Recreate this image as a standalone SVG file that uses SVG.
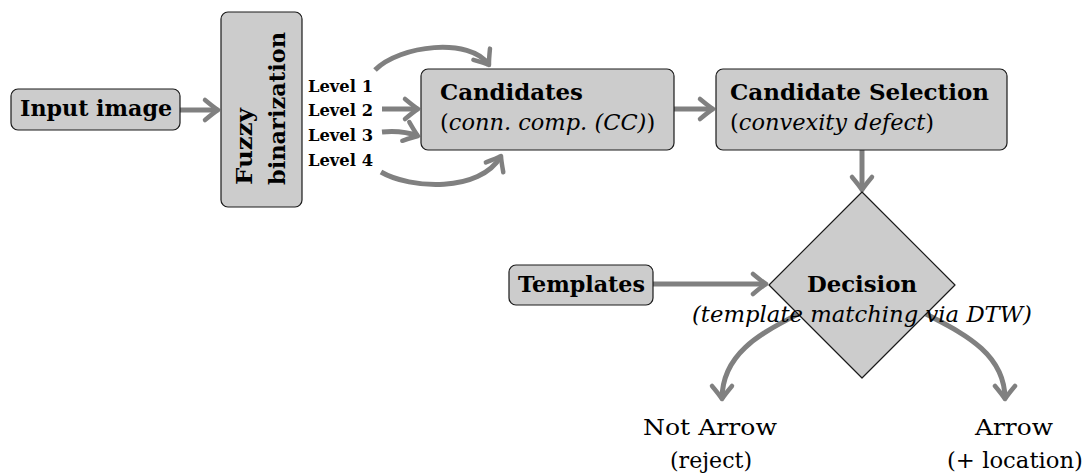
<svg xmlns="http://www.w3.org/2000/svg" width="1088" height="473" viewBox="0 0 1088 473">
  <style>
    .box { fill: #cccccc; stroke: #1a1a1a; stroke-width: 1.2; }
    .edge { fill: none; stroke: #808080; stroke-width: 5; marker-end: url(#head); }
    .t { font-family: "DejaVu Serif", "Liberation Serif", serif; fill: #000; }
    .b { font-weight: bold; font-size: 23px; }
    .lv { font-weight: bold; font-size: 16px; }
    .r { font-size: 23px; }
    .sub { font-size: 22.5px; }
    .it { font-style: italic; }
  </style>
  <defs>
    <marker id="head" markerUnits="userSpaceOnUse" orient="auto" refX="0" refY="0" markerWidth="30" markerHeight="30" viewBox="-15 -15 30 30" overflow="visible">
      <path d="M -13,-10 Q -4,-2.5 0,0 Q -4,2.5 -13,10" fill="none" stroke="#808080" stroke-width="4.5" stroke-linecap="round" stroke-linejoin="round"/>
    </marker>
  </defs>

  <!-- connectors -->
  <g id="connectors">
    <path class="edge" d="M180,110 L218,110"/>
    <path class="edge" d="M375,70 C400,45 470,37 489,65"/>
    <path class="edge" d="M382,109 L418,109"/>
    <path class="edge" d="M382,132 Q402,130 418,136"/>
    <path class="edge" d="M381,172 C410,189 480,193 501,156"/>
    <path class="edge" d="M674,109 L713,109"/>
    <path class="edge" d="M862,150 L862,190"/>
    <path class="edge" d="M653,284 L766,284"/>
    <path class="edge" d="M798,314 C764,332 722,352 722,399"/>
    <path class="edge" d="M926,314 C960,332 1005,352 1005,399"/>
  </g>

  <!-- input image -->
  <g id="input">
    <rect class="box" x="11" y="89" width="169" height="41" rx="7"/>
    <text class="t b" x="20" y="116" textLength="152" lengthAdjust="spacingAndGlyphs">Input image</text>
  </g>

  <!-- fuzzy binarization (vertical label) -->
  <g id="fuzzy">
    <rect class="box" x="221" y="12" width="81" height="195" rx="7"/>
    <text class="t b" transform="translate(252,185) rotate(-90)" textLength="77" lengthAdjust="spacingAndGlyphs">Fuzzy</text>
    <text class="t b" transform="translate(285,185) rotate(-90)" textLength="153" lengthAdjust="spacingAndGlyphs">binarization</text>
  </g>

  <!-- binarization levels -->
  <g id="levels">
    <text class="t lv" x="308" y="92" textLength="65" lengthAdjust="spacingAndGlyphs">Level 1</text>
    <text class="t lv" x="308" y="116" textLength="65" lengthAdjust="spacingAndGlyphs">Level 2</text>
    <text class="t lv" x="308" y="141" textLength="65" lengthAdjust="spacingAndGlyphs">Level 3</text>
    <text class="t lv" x="308" y="166" textLength="65" lengthAdjust="spacingAndGlyphs">Level 4</text>
  </g>

  <!-- candidates: upright brackets around an italic method name -->
  <g id="candidates">
    <rect class="box" x="421" y="69" width="253" height="81" rx="7"/>
    <text class="t b" x="440" y="100" textLength="143" lengthAdjust="spacingAndGlyphs">Candidates</text>
    <text class="t sub" x="440" y="130">(<tspan class="it">conn. comp. (CC)</tspan>)</text>
  </g>

  <!-- candidate selection -->
  <g id="selection">
    <rect class="box" x="716" y="69" width="291" height="81" rx="7"/>
    <text class="t b" x="730" y="100" textLength="259" lengthAdjust="spacingAndGlyphs">Candidate Selection</text>
    <text class="t sub" x="730" y="130">(<tspan class="it">convexity defect</tspan>)</text>
  </g>

  <!-- templates -->
  <g id="templates">
    <rect class="box" x="509" y="265" width="144" height="40" rx="7"/>
    <text class="t b" x="518" y="292" textLength="127" lengthAdjust="spacingAndGlyphs">Templates</text>
  </g>

  <!-- decision -->
  <g id="decision">
    <polygon class="box" points="862,192 955,285 862,378 769,285" stroke-linejoin="round"/>
    <text class="t b" x="807" y="292" textLength="110" lengthAdjust="spacingAndGlyphs">Decision</text>
    <text class="t r it" x="692" y="322" textLength="340" lengthAdjust="spacingAndGlyphs">(template matching via DTW)</text>
  </g>

  <!-- outcomes -->
  <g id="not-arrow">
    <text class="t r" x="643" y="435" textLength="134" lengthAdjust="spacingAndGlyphs">Not Arrow</text>
    <text class="t r" x="670" y="468" textLength="82" lengthAdjust="spacingAndGlyphs">(reject)</text>
  </g>
  <g id="arrow">
    <text class="t r" x="975" y="435" textLength="78" lengthAdjust="spacingAndGlyphs">Arrow</text>
    <text class="t r" x="947" y="468" textLength="136" lengthAdjust="spacingAndGlyphs">(+ location)</text>
  </g>
</svg>
